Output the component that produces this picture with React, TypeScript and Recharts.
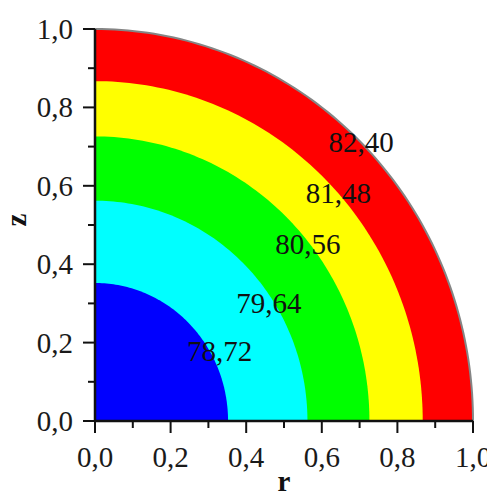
import React from 'react';
import { ComposedChart, Area, Scatter, XAxis, YAxis, LabelList, Label } from 'recharts';

// outer radius of each contour band (r and z are normalised)
const bandRadii = [1.0, 0.867, 0.726, 0.562, 0.352];
const bandColors = ['#ff0000', '#ffff00', '#00ff00', '#00ffff', '#0000ff'];

// contour level labels and where they sit
const levelLabels = ['82,40', '81,48', '80,56', '79,64', '78,72'];
const labelR = [0.704, 0.644, 0.563, 0.46, 0.33];
const labelZ = [0.713, 0.582, 0.452, 0.303, 0.18];

const axisTicks = [0, 0.1, 0.2, 0.3, 0.4, 0.5, 0.6, 0.7, 0.8, 0.9, 1.0];

const FONT = '"Liberation Serif", "Times New Roman", serif';

// quarter-disc outline for a band of radius R
const arc = (R: number) => {
  const pts: { r: number; z: number }[] = [];
  const steps = 90;
  for (let i = 0; i <= steps; i++) {
    const t = (Math.PI / 2) * (1 - i / steps);
    pts.push({ r: R * Math.cos(t), z: R * Math.sin(t) });
  }
  return pts;
};

const labelPoints = levelLabels.map((label, i) => ({ r: labelR[i], z: labelZ[i], label }));

const isMajor = (v: number) => Math.round(v * 10) % 2 === 0;
const fmt = (v: number) => v.toFixed(1).replace('.', ',');

const XTick = (props: any) => {
  const { x, y, payload } = props;
  const major = isMajor(payload.value);
  return (
    <g>
      <line x1={x} x2={x} y1={y} y2={y + (major ? 12 : 7)} stroke="#111" strokeWidth={2} />
      {major && (
        <text x={x} y={y + 46} textAnchor="middle" fontSize={29} fontFamily={FONT} fill="#1a1a1a">
          {fmt(payload.value)}
        </text>
      )}
    </g>
  );
};

const YTick = (props: any) => {
  const { x, y, payload } = props;
  const major = isMajor(payload.value);
  return (
    <g>
      <line x1={x - (major ? 12 : 7)} x2={x} y1={y} y2={y} stroke="#111" strokeWidth={2} />
      {major && (
        <text x={x - 22} y={y + 10} textAnchor="end" fontSize={29} fontFamily={FONT} fill="#1a1a1a">
          {fmt(payload.value)}
        </text>
      )}
    </g>
  );
};

export default function App() {
  return (
    <div style={{ width: 487, height: 483, fontFamily: FONT }}>
      <ComposedChart width={487} height={483} margin={{ top: 21, right: 22, bottom: 0, left: 0 }}>
        {bandRadii.map((R, i) => (
          <Area
            key={`band-${i}`}
            data={arc(R)}
            dataKey="z"
            type="linear"
            fill={bandColors[i]}
            fillOpacity={1}
            stroke={i === 0 ? '#858585' : 'none'}
            strokeWidth={i === 0 ? 2 : 0}
            isAnimationActive={false}
            dot={false}
            activeDot={false}
          />
        ))}
        <Scatter data={labelPoints} dataKey="z" shape={() => <g />} isAnimationActive={false}>
          <LabelList
            dataKey="label"
            position="center"
            style={{ fill: '#111', fontSize: 29, fontFamily: FONT }}
          />
        </Scatter>
        <XAxis
          dataKey="r"
          type="number"
          domain={[0, 1]}
          ticks={axisTicks}
          interval={0}
          height={70}
          tickSize={0}
          tickMargin={0}
          tickLine={false}
          tick={<XTick />}
          axisLine={{ stroke: '#111', strokeWidth: 2.5 }}
        >
          <Label
            content={(p: any) => {
              const { x, y, width } = p.viewBox;
              return (
                <text x={x + width / 2} y={y + 70} textAnchor="middle" fontSize={29} fontWeight="bold" fontFamily={FONT} fill="#111">
                  r
                </text>
              );
            }}
          />
        </XAxis>
        <YAxis
          type="number"
          domain={[0, 1]}
          ticks={axisTicks}
          interval={0}
          width={87}
          tickSize={0}
          tickMargin={0}
          tickLine={false}
          tick={<YTick />}
          axisLine={{ stroke: '#111', strokeWidth: 2.5 }}
        >
          <Label
            content={(p: any) => {
              const { x, y, height } = p.viewBox;
              const cx = x + 18;
              const cy = y + height / 2 - 5;
              return (
                <text x={cx} y={cy} transform={`rotate(-90 ${cx} ${cy})`} textAnchor="middle" fontSize={29} fontWeight="bold" fontFamily={FONT} fill="#111">
                  z
                </text>
              );
            }}
          />
        </YAxis>
      </ComposedChart>
    </div>
  );
}
